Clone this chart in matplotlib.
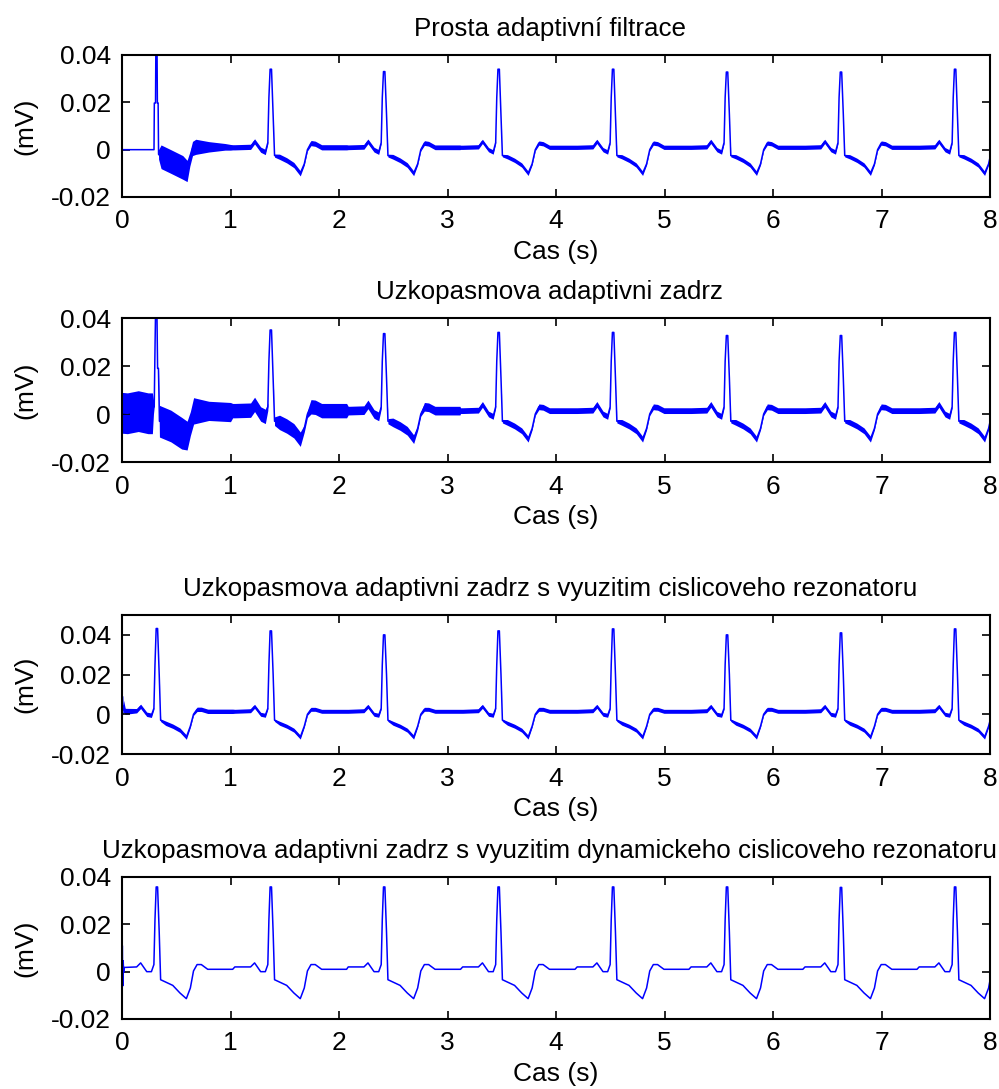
import numpy as np
import matplotlib
matplotlib.use("Agg")
import matplotlib.pyplot as plt

plt.rcParams['font.family'] = ['Liberation Sans', 'DejaVu Sans']

# casy R vln (s) - stejne ve vsech ctyrech zaznamech
r_times = [0.32, 1.37, 2.415, 3.47, 4.525, 5.575, 6.625, 7.677]

# tvar jednoho uderu: posun od R vlny (s), None = vrchol R
beat_offsets = [-0.35, -0.33, -0.185, -0.148, -0.092, -0.049, -0.026, -0.016, -0.005, 0.008,
                0.023, 0.036, 0.082, 0.148, 0.214, 0.273, 0.31, 0.339, 0.372, 0.411, 0.47, 0.70]
ripple_weight = [1, 1, 1, 1, 1, 1, 0.5, 0, 0, 0,
                 0, 0.6, 1, 1, 1, 1, 0.5, 0.5, 1, 1, 1, 1]

titles = ["Prosta adaptivní filtrace",
          "Uzkopasmova adaptivni zadrz",
          "Uzkopasmova adaptivni zadrz s vyuzitim cislicoveho rezonatoru",
          "Uzkopasmova adaptivni zadrz s vyuzitim dynamickeho cislicoveho rezonatoru"]

# 1) prosta adaptivni filtrace
p1_lead_t = [0, 0.295, 0.298, 0.309, 0.313, 0.322, 0.326, 0.333, 0.337, 0.36, 0.45, 0.56, 0.60,
             0.625, 0.65, 0.68, 0.80, 0.95, 1.0]
p1_lead_v = [0, 0, 0.0197, 0.0197, 0.05, 0.05, 0.0197, 0.0197, -0.002, -0.003, -0.005, -0.0075,
             -0.009, -0.004, 0.0005, 0.0012, 0.0012, 0.0012, 0.001]
p1_lead_hw = [0, 0, 0, 0, 0, 0, 0, 0, 0.002, 0.005, 0.005, 0.005, 0.0045,
              0.003, 0.003, 0.0032, 0.0022, 0.0014, 0.0012]
p1_beat = [0.001, 0.001, 0.0012, 0.0035, 0.0, -0.001, 0.003, 0.022, None, None,
           0.015, -0.0025, -0.003, -0.0045, -0.0065, -0.010, -0.006, 0.0, 0.0028, 0.0025, 0.001, 0.001]
p1_r = [0.034, 0.033, 0.034, 0.034, 0.0328, 0.0328, 0.034]
p1_ripple = [0.0011, 0.001, 0.0009, 0.0009, 0.0009, 0.0009, 0.0009]

# 2) uzkopasmova adaptivni zadrz
p2_lead_t = [0, 0.05, 0.15, 0.24, 0.28, 0.29, 0.297, 0.305, 0.312, 0.32, 0.328, 0.336, 0.345,
             0.45, 0.55, 0.60, 0.63, 0.66, 0.8, 1.0]
p2_lead_v = [0.0005, 0.0003, 0.0012, 0.0003, 0.0003, 0.003, 0.003, 0.030, 0.05, 0.05, 0.019, 0.019,
             -0.003, -0.005, -0.008, -0.009, -0.004, 0.0013, 0.0013, 0.0008]
p2_lead_hw = [0.0085, 0.0085, 0.0085, 0.0085, 0.0085, 0.003, 0, 0, 0, 0, 0, 0, 0.0066,
              0.0066, 0.0066, 0.006, 0.005, 0.0055, 0.004, 0.004]
p2_beat = [0.0014, 0.0014, 0.0016, 0.004, 0.0, -0.001, 0.003, 0.022, None, None,
           0.015, -0.003, -0.0035, -0.005, -0.007, -0.0105, -0.006, 0.0, 0.003, 0.0028, 0.0014, 0.0014]
p2_r = [0.035, 0.0335, 0.034, 0.034, 0.0327, 0.0327, 0.034]
p2_ripple = [0.003, 0.0018, 0.0012, 0.0012, 0.0012, 0.0012, 0.0012]

# 3) s cislicovym rezonatorem
p3_lead_t = [0, 0.004, 0.008, 0.015, 0.03]
p3_lead_v = [-0.0148, 0.009, 0.002, 0.004, 0.0015]
p3_lead_hw = [0, 0, 0.002, 0.003, 0.0015]
p3_beat = [0.0015, 0.0015, 0.0018, 0.004, 0.0, -0.0005, 0.003, 0.025, None, None,
           0.02, -0.003, -0.0045, -0.006, -0.008, -0.0115, -0.006, 0.0, 0.0025, 0.0025, 0.0015, 0.0015]
p3_r = [0.0432, 0.042, 0.040, 0.042, 0.043, 0.040, 0.041, 0.043]
p3_ripple = [0.0011, 0.001, 0.001, 0.001, 0.001, 0.001, 0.001, 0.001]

# 4) s dynamickym cislicovym rezonatorem
p4_lead_t = [0, 0.003, 0.007, 0.011, 0.015, 0.02, 0.03]
p4_lead_v = [-0.0114, 0.011, -0.006, 0.0046, -0.0003, 0.0018, 0.0018]
p4_lead_hw = [0, 0, 0, 0, 0, 0, 0]
p4_beat = [0.001, 0.002, 0.002, 0.0037, 0.0, 0.0, 0.003, 0.022, None, None,
           0.0166, -0.0034, -0.0044, -0.0058, -0.009, -0.0114, -0.0069, 0.0003, 0.003, 0.003, 0.001, 0.001]
p4_r = [0.0358, 0.0358, 0.0358, 0.0358, 0.0358, 0.0358, 0.0356, 0.0358]
p4_ripple = [0, 0, 0, 0, 0, 0, 0, 0]


def build(lead_t, lead_v, lead_hw, beat, r_heights, ripple):
    t = list(lead_t)
    v = list(lead_v)
    hw = list(lead_hw)
    first = len(r_times) - len(r_heights)
    for tr, rh, rp in zip(r_times[first:], r_heights, ripple):
        for off, val, w in zip(beat_offsets, beat, ripple_weight):
            tt = tr + off
            if tt <= t[-1]:
                continue
            t.append(tt)
            v.append(rh if val is None else val)
            hw.append(rp * w)
    return np.array(t), np.array(v), np.array(hw)


panels = [
    (p1_lead_t, p1_lead_v, p1_lead_hw, p1_beat, p1_r, p1_ripple, 0.04),
    (p2_lead_t, p2_lead_v, p2_lead_hw, p2_beat, p2_r, p2_ripple, 0.04),
    (p3_lead_t, p3_lead_v, p3_lead_hw, p3_beat, p3_r, p3_ripple, 0.05),
    (p4_lead_t, p4_lead_v, p4_lead_hw, p4_beat, p4_r, p4_ripple, 0.04),
]

# polohy os v pixelech (top, bottom) z 1089
boxes = [(55, 197), (318, 462), (615, 754), (877, 1019)]

W, H = 999, 1089
fig = plt.figure(figsize=(W / 100, H / 100), dpi=100)

for i, (lt, lv, lh, beat, rh, rp, ytop) in enumerate(panels):
    top, bot = boxes[i]
    ax = fig.add_axes([122 / W, 1 - bot / H, 868 / W, (bot - top) / H])
    t, v, hw = build(lt, lv, lh, beat, rh, rp)
    ax.fill_between(t, v - hw, v + hw, color='#0000ff', lw=0)
    ax.plot(t, v, color='#0000ff', lw=1.1)
    ax.set_xlim(0, 8)
    ax.set_ylim(-0.02, ytop)
    ax.set_xticks(range(9))
    ax.set_yticks([-0.02, 0, 0.02, 0.04])
    ax.set_yticklabels(['-0.02', '0', '0.02', '0.04'])
    ax.tick_params(direction='in', top=True, right=True, length=6, width=1.2,
                   labelsize=19, pad=8)
    ax.tick_params(axis='x', pad=9)
    for s in ax.spines.values():
        s.set_linewidth(1.5)
    # titulky jsou v originale posunute trochu doleva
    ax.set_title(titles[i], fontsize=18.7, pad=14, x=0.493)
    ax.set_xlabel('Cas (s)', fontsize=19, labelpad=5)
    ax.set_ylabel('(mV)', fontsize=19)
    ax.yaxis.set_label_coords(-0.097, 0.5)

fig.savefig('out.png', dpi=100)
